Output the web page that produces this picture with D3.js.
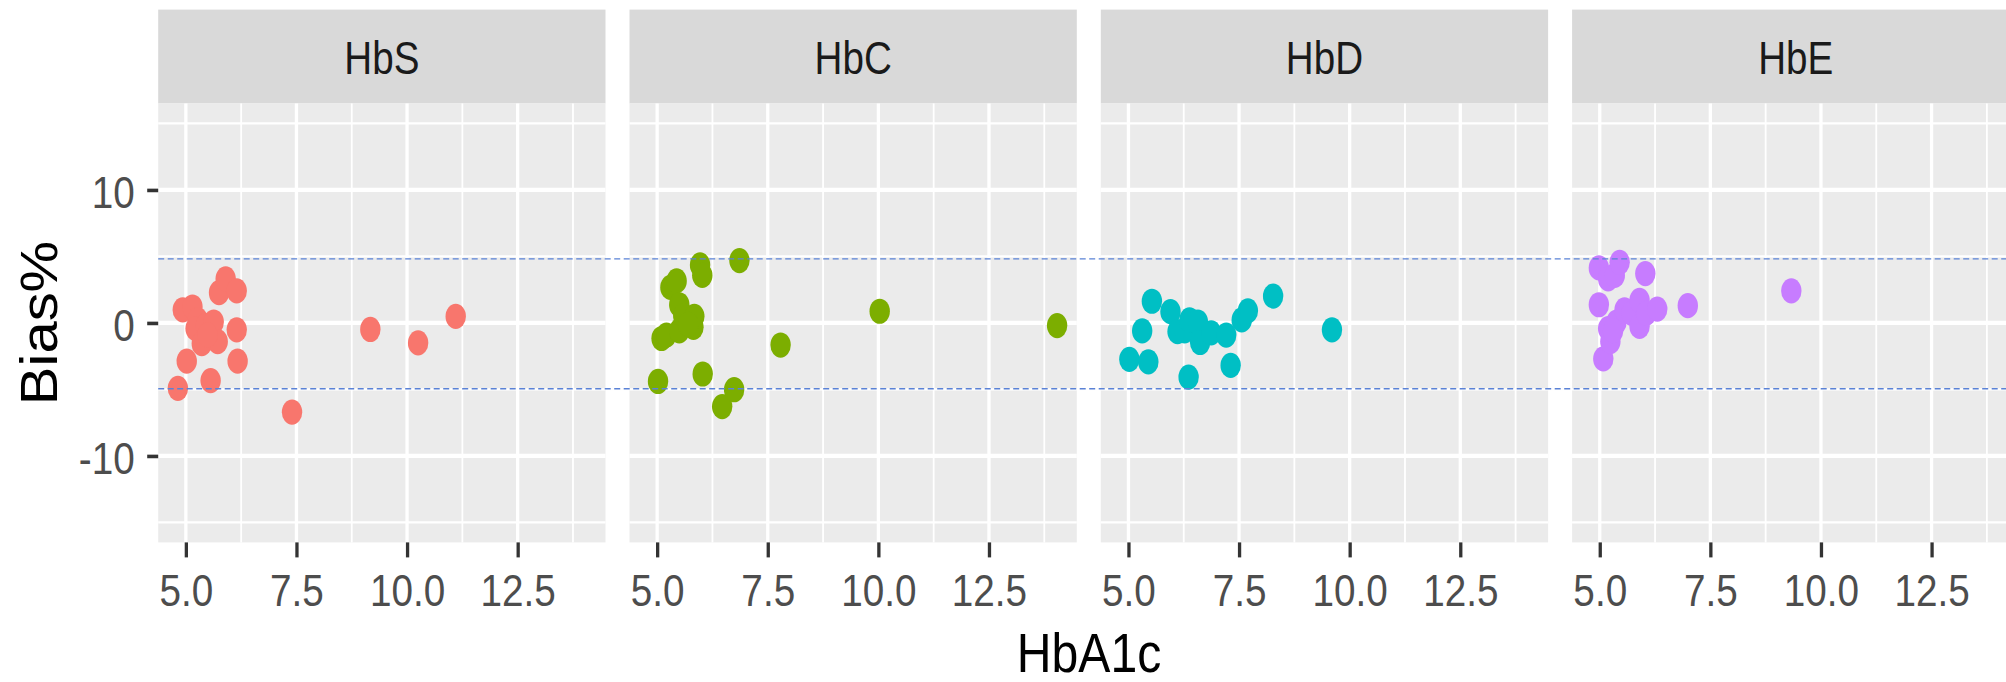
<!DOCTYPE html>
<html>
<head>
<meta charset="utf-8">
<script src="https://cdn.jsdelivr.net/npm/d3@7"></script>
<style>
  body { margin: 0; background: #fff; }
  svg { display: block; font-family: "Liberation Sans", Arial, sans-serif; }
</style>
</head>
<body>
<script>
//Datos: un panel por variante de hemoglobina

const categorias = ['HbS', 'HbC', 'HbD', 'HbE'];
const colores = ['#F8766D', '#7CAE00', '#00BFC4', '#C77CFF'];

//HbA1c (x) y Bias% (y) de cada panel
const hbsX = [4.82, 5.02, 4.93, 5.15, 5.27, 5.22, 5.45, 5.36, 5.63, 5.72, 5.49, 5.56, 5.75, 5.90, 6.15, 6.15, 6.17, 7.40, 9.17, 10.25, 11.10];
const hbsY = [-4.92, -2.87, 0.98, 1.20, 0.23, -0.42, -0.20, -1.56, 0.07, -1.40, -0.91, -4.33, 2.28, 3.32, 2.41, -0.52, -2.87, -6.71, -0.49, -1.50, 0.49];

const hbcX = [5.02, 5.10, 5.21, 5.30, 5.44, 5.50, 5.50, 5.59, 5.82, 5.84, 5.70, 5.97, 6.02, 6.03, 6.47, 6.74, 6.86, 7.79, 10.03, 14.04];
const hbcY = [-4.40, -1.17, -0.91, 2.67, 3.16, 1.37, -0.59, 0.55, -0.33, 0.49, -0.10, 4.36, 3.58, -3.84, -6.29, -5.02, 4.69, -1.66, 0.88, -0.20];

const hbdX = [5.02, 5.31, 5.45, 5.53, 5.95, 6.11, 6.27, 6.38, 6.36, 6.57, 6.62, 6.87, 7.21, 7.31, 7.56, 7.70, 8.27, 9.60];
const hbdY = [-2.74, -0.59, -2.93, 1.63, 0.85, -0.65, -0.59, 0.23, -4.07, 0.07, -1.47, -0.75, -0.91, -3.19, 0.23, 0.91, 2.02, -0.52];

const hbeX = [4.98, 5.08, 4.98, 5.19, 5.34, 5.45, 5.19, 5.24, 5.38, 5.56, 5.72, 5.90, 5.90, 6.03, 6.05, 6.30, 6.99, 9.33, 5.30];
const hbeY = [4.14, -2.70, 1.37, 3.32, 3.58, 4.56, -0.42, -1.40, 0.07, 0.98, 0.72, 1.69, -0.26, 3.71, 0.72, 1.04, 1.30, 2.41, -0.59];

const seriesX = [hbsX, hbcX, hbdX, hbeX];
const seriesY = [hbsY, hbcY, hbdY, hbeY];

//Ticks y líneas de referencia
const xTicks = [5, 7.5, 10, 12.5];
const xMinor = [6.25, 8.75, 11.25, 13.75];
const yTicks = [-10, 0, 10];
const yMinor = [-15, -5, 5, 15];
const limites = [4.82, -4.95];

//Tamaños
const [w, h] = [2006, 682];
const panelLeft = 158.2, panelStep = 471.3, panelW = 447.3;
const stripTop = 9.6, panelTop = 103.5, panelBottom = 542.4;
const sx = 0.86;   //el original está estirado en vertical
const fuente = '"Liberation Sans", Arial, sans-serif';

const svg = d3.select('body')
    .append('svg')
    .attr('width', w)
    .attr('height', h);

//Escala Y compartida
const yScale = d3.scaleLinear()
    .domain([-16.5, 16.5])
    .range([panelBottom, panelTop]);

categorias.forEach((cat, k) => {
    const x0 = panelLeft + k * panelStep;

    const xScale = d3.scaleLinear()
        .domain([4.375, 14.485])
        .range([x0, x0 + panelW]);

    const g = svg.append('g').attr('class', 'panel');

    //Strip
    g.append('rect')
        .attr('x', x0).attr('y', stripTop)
        .attr('width', panelW).attr('height', panelTop - stripTop)
        .attr('fill', '#D9D9D9');

    g.append('text')
        .attr('transform', 'translate(' + (x0 + panelW / 2) + ',74) scale(0.84,1)')
        .attr('text-anchor', 'middle')
        .attr('font-size', 46)
        .attr('fill', '#1A1A1A')
        .text(cat);

    //Fondo del panel
    g.append('rect')
        .attr('x', x0).attr('y', panelTop)
        .attr('width', panelW).attr('height', panelBottom - panelTop)
        .attr('fill', '#EBEBEB');

    //Rejilla menor
    g.selectAll('.vminor').data(xMinor).enter().append('line')
        .attr('x1', d => xScale(d)).attr('x2', d => xScale(d))
        .attr('y1', panelTop).attr('y2', panelBottom)
        .attr('stroke', '#fff').attr('stroke-width', 1.8);

    g.selectAll('.hminor').data(yMinor).enter().append('line')
        .attr('x1', x0).attr('x2', x0 + panelW)
        .attr('y1', d => yScale(d)).attr('y2', d => yScale(d))
        .attr('stroke', '#fff').attr('stroke-width', 2.3);

    //Rejilla mayor
    g.selectAll('.vmajor').data(xTicks).enter().append('line')
        .attr('x1', d => xScale(d)).attr('x2', d => xScale(d))
        .attr('y1', panelTop).attr('y2', panelBottom)
        .attr('stroke', '#fff').attr('stroke-width', 3.3);

    g.selectAll('.hmajor').data(yTicks).enter().append('line')
        .attr('x1', x0).attr('x2', x0 + panelW)
        .attr('y1', d => yScale(d)).attr('y2', d => yScale(d))
        .attr('stroke', '#fff').attr('stroke-width', 4.2);

    //Eje X
    const xAxis = d3.axisBottom(xScale)
        .tickValues(xTicks)
        .tickFormat(d3.format('.1f'))
        .tickSize(15)
        .tickSizeOuter(0);

    const ax = svg.append('g')
        .attr('transform', 'translate(0,' + panelBottom + ')')
        .call(xAxis)
        .attr('font-family', fuente);
    ax.select('.domain').remove();
    ax.selectAll('.tick line').attr('stroke', '#333').attr('stroke-width', 3.3);
    ax.selectAll('.tick text')
        .attr('y', 0).attr('dy', 0)
        .attr('transform', 'translate(0,64) scale(' + sx + ',1)')
        .attr('font-size', 45)
        .attr('fill', '#4D4D4D');

    //Puntos
    const puntos = seriesX[k].map((v, i) => [v, seriesY[k][i]]);
    g.selectAll('ellipse')
        .data(puntos)
        .enter()
        .append('ellipse')
        .attr('cx', d => xScale(d[0]))
        .attr('cy', d => yScale(d[1]))
        .attr('rx', 10.2)
        .attr('ry', 12.6)
        .attr('fill', colores[k]);
});

//Eje Y (solo en el primer panel), con guion normal como en el original
const yAxis = d3.axisLeft(yScale)
    .tickValues(yTicks)
    .tickFormat(d => String(d))
    .tickSize(11)
    .tickSizeOuter(0);

const ay = svg.append('g')
    .attr('transform', 'translate(' + panelLeft + ',0)')
    .call(yAxis)
    .attr('font-family', fuente);
ay.select('.domain').remove();
ay.selectAll('.tick line').attr('stroke', '#333').attr('stroke-width', 3.6);
ay.selectAll('.tick text')
    .attr('x', 0).attr('dy', '0.4em')
    .attr('transform', 'translate(-23.5,0) scale(' + sx + ',1)')
    .attr('font-size', 45)
    .attr('fill', '#4D4D4D');

//Líneas de referencia discontinuas a lo ancho
svg.selectAll('.limite')
    .data(limites)
    .enter()
    .append('line')
    .attr('x1', panelLeft).attr('x2', w)
    .attr('y1', d => yScale(d)).attr('y2', d => yScale(d))
    .attr('stroke', '#5A82D6')
    .attr('stroke-width', 1.4)
    .attr('stroke-dasharray', '6,3.5');

//Títulos de los ejes
svg.append('text')
    .attr('transform', 'translate(1089,672) scale(0.86,1)')
    .attr('text-anchor', 'middle')
    .attr('font-size', 56)
    .attr('fill', '#000')
    .text('HbA1c');

svg.append('text')
    .attr('transform', 'translate(57,323) rotate(-90) scale(1,0.9)')
    .attr('text-anchor', 'middle')
    .attr('font-size', 58)
    .attr('fill', '#000')
    .text('Bias%');
</script>
</body>
</html>
